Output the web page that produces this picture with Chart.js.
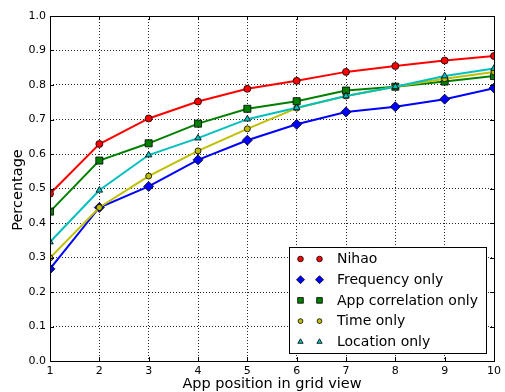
<!DOCTYPE html>
<html>
<head>
<meta charset="utf-8">
<script src="https://cdn.jsdelivr.net/npm/chart.js@4/dist/chart.umd.min.js"></script>
<style>
  html, body { margin: 0; padding: 0; background: #fff; }
  #grafico { display: block; }
</style>
</head>
<body>
<canvas id="grafico" width="505" height="392"></canvas>
<script>
// ─── Dados ────────────────────────────────────────────────────────────────────
const posicoes      = [1, 2, 3, 4, 5, 6, 7, 8, 9, 10];
const nihao         = [0.485, 0.629, 0.703, 0.752, 0.789, 0.812, 0.838, 0.855, 0.871, 0.884];
const frequencia    = [0.267, 0.445, 0.506, 0.583, 0.640, 0.686, 0.722, 0.737, 0.759, 0.791];
const correlacao    = [0.433, 0.581, 0.631, 0.688, 0.731, 0.753, 0.784, 0.795, 0.810, 0.826];
const tempo         = [0.299, 0.445, 0.536, 0.609, 0.673, 0.733, 0.768, 0.795, 0.818, 0.838];
const localizacao   = [0.345, 0.495, 0.597, 0.646, 0.701, 0.734, 0.768, 0.795, 0.826, 0.848];
const ticksY        = [0, 0.1, 0.2, 0.3, 0.4, 0.5, 0.6, 0.7, 0.8, 0.9, 1.0];

const FONTE = '"DejaVu Sans", sans-serif';

// ─── Helpers ──────────────────────────────────────────────────────────────────
function pontos(valores) {
  return posicoes.map((x, i) => ({ x, y: valores[i] }));
}

function serie(label, valores, cor, estilo, raio, ordem) {
  return {
    label,
    data: pontos(valores),
    borderColor: cor,
    backgroundColor: cor,
    borderWidth: 2,
    pointStyle: estilo,
    pointRadius: raio,
    pointHoverRadius: raio,
    pointBackgroundColor: cor,
    pointBorderColor: '#000',
    pointBorderWidth: 0.8,
    tension: 0,
    clip: 0,
    order: ordem,
  };
}

// ─── Moldura, ticks internos, títulos e legenda ──────────────────────────────
const moldura = {
  id: 'moldura',
  afterDatasetsDraw(chart) {
    const { ctx, chartArea: a, scales } = chart;
    ctx.save();
    ctx.strokeStyle = '#000';
    ctx.lineWidth = 1;

    // ticks internos nos quatro lados
    ctx.beginPath();
    posicoes.forEach(v => {
      const x = Math.round(scales.x.getPixelForValue(v)) + 0.5;
      ctx.moveTo(x, a.bottom); ctx.lineTo(x, a.bottom - 4);
      ctx.moveTo(x, a.top);    ctx.lineTo(x, a.top + 4);
    });
    ticksY.forEach(v => {
      const y = Math.round(scales.y.getPixelForValue(v)) + 0.5;
      ctx.moveTo(a.left, y);  ctx.lineTo(a.left + 4, y);
      ctx.moveTo(a.right, y); ctx.lineTo(a.right - 4, y);
    });
    ctx.stroke();

    ctx.strokeRect(Math.round(a.left) + 0.5, Math.round(a.top) + 0.5,
                   Math.round(a.right - a.left), Math.round(a.bottom - a.top));

    // títulos dos eixos
    ctx.fillStyle = '#000';
    ctx.font = '14.5px ' + FONTE;
    ctx.textAlign = 'center';
    ctx.textBaseline = 'alphabetic';
    ctx.fillText('App position in grid view', (a.left + a.right) / 2, 388);
    ctx.translate(21.5, 190);
    ctx.rotate(-Math.PI / 2);
    ctx.fillText('Percentage', 0, 0);
    ctx.restore();
  },
  afterDraw(chart) {
    const { ctx, chartArea: a } = chart;
    const w = 197, h = 106;
    const x0 = Math.round(a.right - 8 - w) + 0.5;
    const y0 = Math.round(a.bottom - 8 - h) + 0.5;
    ctx.save();
    ctx.fillStyle = '#fff';
    ctx.strokeStyle = '#000';
    ctx.lineWidth = 1;
    ctx.fillRect(x0, y0, w, h);
    ctx.strokeRect(x0, y0, w, h);

    ctx.font = '14px ' + FONTE;
    ctx.textAlign = 'left';
    ctx.textBaseline = 'middle';
    chart.data.datasets.forEach((ds, i) => {
      const y = y0 + 11.5 + i * 20.7;
      const opts = {
        pointStyle: ds.pointStyle,
        radius: ds.pointRadius * 0.8,
        borderWidth: 0.8,
      };
      ctx.fillStyle = ds.pointBackgroundColor;
      ctx.strokeStyle = '#000';
      ctx.lineWidth = 0.8;
      [x0 + 11, x0 + 30].forEach(px => Chart.helpers.drawPoint(ctx, opts, px, y));
      ctx.fillStyle = '#000';
      ctx.fillText(ds.label, x0 + 47.5, y + 0.5);
    });
    ctx.restore();
  },
};

// ─── Gráfico ──────────────────────────────────────────────────────────────────
new Chart(document.getElementById('grafico').getContext('2d'), {
  type: 'line',
  data: {
    datasets: [
      serie('Nihao',                nihao,       '#ff0000', 'circle',  3.5, 4),
      serie('Frequency only',       frequencia,  '#0000ff', 'rectRot', 5,   3),
      serie('App correlation only', correlacao,  '#008000', 'rect',    5,   2),
      serie('Time only',            tempo,       '#bfbf00', 'circle',  3,   1),
      serie('Location only',        localizacao, '#00bfbf', 'triangle',3.8, 0),
    ],
  },
  options: {
    responsive: false,
    animation: false,
    devicePixelRatio: 1,
    layout: { padding: { top: 16, right: 8, left: 0, bottom: 0 } },
    plugins: { legend: { display: false }, tooltip: { enabled: false } },
    scales: {
      x: {
        type: 'linear',
        min: 1, max: 10,
        afterBuildTicks: s => { s.ticks = posicoes.map(v => ({ value: v })); },
        afterFit: s => { s.height = 31; },
        ticks: {
          color: '#000', padding: 4, maxRotation: 0, autoSkip: false,
          font: { family: FONTE, size: 11 },
          callback: v => String(v),
        },
        grid: { color: 'rgba(0,0,0,0.85)', lineWidth: 1, drawTicks: false, tickLength: 0 },
        border: { display: false, dash: [1, 2] },
      },
      y: {
        type: 'linear',
        min: 0, max: 1,
        afterBuildTicks: s => { s.ticks = ticksY.map(v => ({ value: v })); },
        afterFit: s => { s.width = 50; },
        ticks: {
          color: '#000', padding: 4,
          font: { family: FONTE, size: 11 },
          callback: v => v.toFixed(1),
        },
        grid: { color: 'rgba(0,0,0,0.85)', lineWidth: 1, drawTicks: false, tickLength: 0 },
        border: { display: false, dash: [1, 2] },
      },
    },
  },
  plugins: [moldura],
});
</script>
</body>
</html>
